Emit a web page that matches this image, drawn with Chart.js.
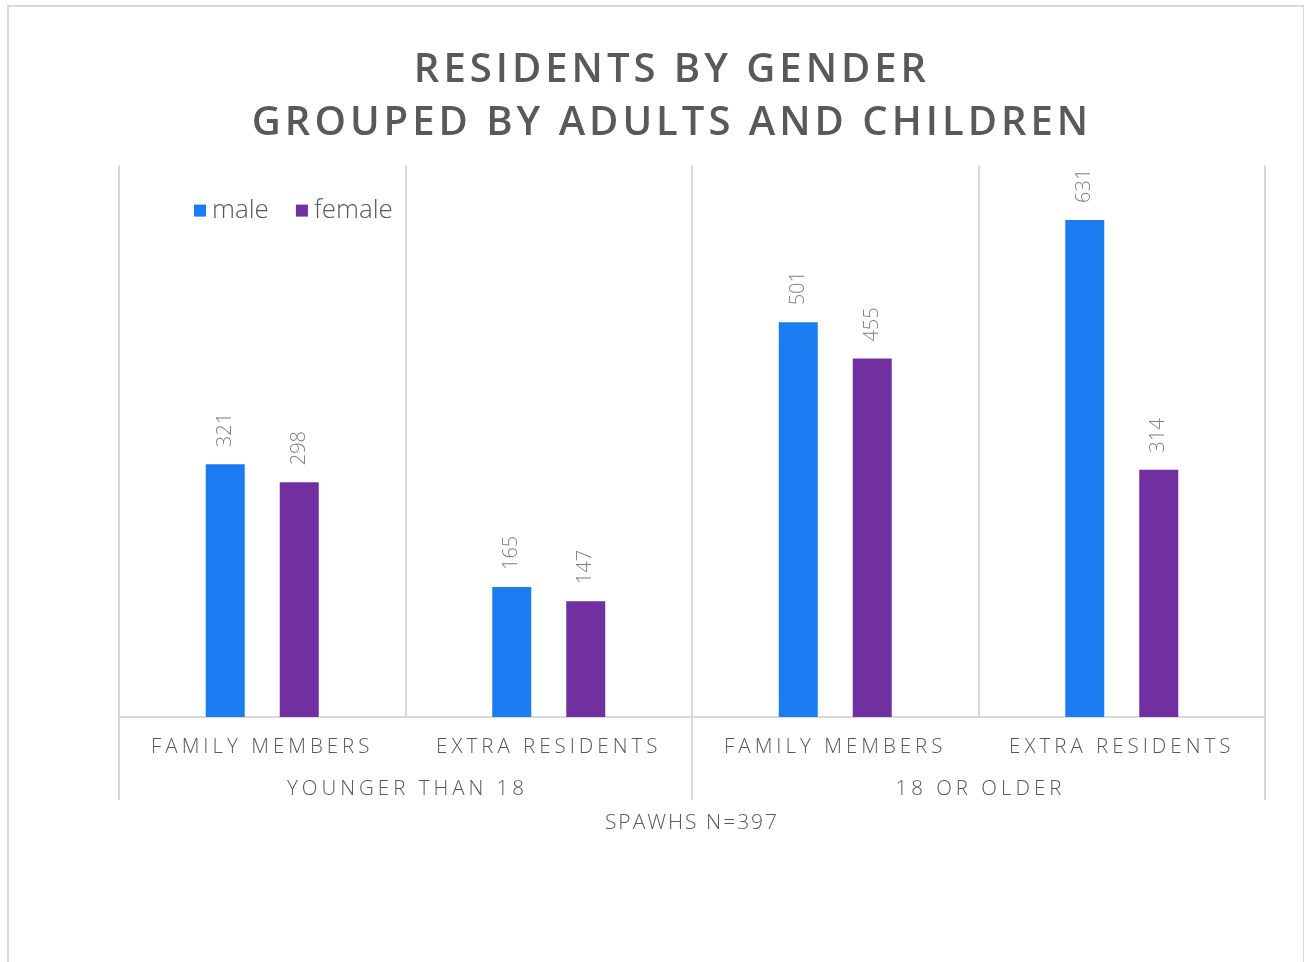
<!DOCTYPE html>
<html>
<head>
<meta charset="utf-8">
<script src="https://cdn.jsdelivr.net/npm/chart.js@4.4.0/dist/chart.umd.min.js"></script>
<style>
  html, body { margin: 0; padding: 0; background: #fff; overflow: hidden; }
  #frame { position: absolute; left: 7px; top: 5px; width: 1294px; height: 1000px; border: 2px solid #d9d9d9; pointer-events: none; }
  canvas { position: absolute; left: 0; top: 0; }
</style>
</head>
<body>
<canvas id="myChart" width="1304" height="962"></canvas>
<div id="frame"></div>
<script>
// data
const subCategories = ['FAMILY MEMBERS', 'EXTRA RESIDENTS', 'FAMILY MEMBERS', 'EXTRA RESIDENTS'];
const ageGroups = ['YOUNGER THAN 18', '18 OR OLDER'];
const maleValues = [321, 165, 501, 631];
const femaleValues = [298, 147, 455, 314];
const axisTitle = 'SPAWHS N=397';

const FONT = "'Open Sans', 'DejaVu Sans', sans-serif";
const GRID = '#d9d9d9';

// labels, legend, group row drawn on the canvas
const decor = {
  id: 'decor',
  beforeDraw(chart) {
    chart.ctx.letterSpacing = '4px';
  },
  afterDatasetsDraw(chart) {
    const ctx = chart.ctx;
    ctx.save();
    ctx.letterSpacing = '0px';
    ctx.font = '300 20px ' + FONT;
    ctx.fillStyle = '#7f7f7f';
    ctx.textAlign = 'left';
    ctx.textBaseline = 'middle';
    chart.data.datasets.forEach((ds, i) => {
      chart.getDatasetMeta(i).data.forEach((bar, j) => {
        ctx.save();
        ctx.translate(bar.x, bar.y - 17);
        ctx.rotate(-Math.PI / 2);
        ctx.fillText(String(ds.data[j]), 0, 0);
        ctx.restore();
      });
    });
    ctx.restore();
  },
  afterDraw(chart) {
    const ctx = chart.ctx;
    const x = chart.scales.x;
    const area = chart.chartArea;
    ctx.save();

    // group separators below the axis
    const mid = (x.getPixelForValue(1) + x.getPixelForValue(2)) / 2;
    ctx.strokeStyle = GRID;
    ctx.lineWidth = 2;
    [x.left, mid, x.right].forEach(px => {
      ctx.beginPath();
      ctx.moveTo(px, area.bottom);
      ctx.lineTo(px, area.bottom + 83);
      ctx.stroke();
    });

    // group labels
    ctx.font = '300 20.5px ' + FONT;
    ctx.fillStyle = '#595959';
    ctx.textAlign = 'center';
    ctx.textBaseline = 'middle';
    ctx.letterSpacing = '4px';
    ageGroups.forEach((g, gi) => {
      const cx = (x.getPixelForValue(gi * 2) + x.getPixelForValue(gi * 2 + 1)) / 2;
      ctx.fillText(g, cx + 2, area.bottom + 72);
    });

    // axis title
    ctx.letterSpacing = '2px';
    ctx.font = '300 21px ' + FONT;
    ctx.fillText(axisTitle, (x.left + x.right) / 2, area.bottom + 106);

    // legend
    ctx.letterSpacing = '0px';
    ctx.font = '300 26px ' + FONT;
    ctx.textAlign = 'left';
    let lx = area.left + 75;
    const ly = area.top + 45;
    chart.data.datasets.forEach(ds => {
      ctx.fillStyle = ds.backgroundColor;
      ctx.fillRect(lx, ly - 6, 12, 12);
      ctx.fillStyle = '#595959';
      ctx.fillText(ds.label, lx + 18, ly);
      lx += 18 + ctx.measureText(ds.label).width + 27;
    });
    ctx.restore();
  }
};

const data = {
  labels: subCategories,
  datasets: [
    { label: 'male', data: maleValues, backgroundColor: '#1a7cf0' },
    { label: 'female', data: femaleValues, backgroundColor: '#7030a0' }
  ]
};

const config = {
  type: 'bar',
  data,
  options: {
    responsive: false,
    animation: false,
    devicePixelRatio: 1,
    categoryPercentage: 0.5166,
    barPercentage: 0.527,
    layout: { padding: { left: 79, right: 39, top: 44, bottom: 205 } },
    plugins: {
      legend: { display: false },
      tooltip: { enabled: false },
      title: {
        display: true,
        text: ['RESIDENTS BY GENDER', 'GROUPED BY ADULTS AND CHILDREN'],
        color: '#595959',
        font: { family: FONT, size: 40, weight: '600', lineHeight: 1.32 },
        padding: { top: 0, bottom: 16 }
      }
    },
    scales: {
      x: {
        grid: { color: GRID, lineWidth: 2, drawTicks: false, offset: true },
        border: { color: GRID, width: 2 },
        ticks: {
          color: '#595959',
          font: { family: FONT, size: 20.5, weight: '300' },
          padding: 18,
          maxRotation: 0,
          autoSkip: false
        },
        afterFit(s) { s.height = 40; }
      },
      y: {
        min: 0,
        max: 700,
        grid: { display: false },
        border: { display: false },
        ticks: { display: false },
        afterFit(s) { s.width = 40; }
      }
    }
  },
  plugins: [decor]
};

const myChart = new Chart(document.getElementById('myChart'), config);
</script>
</body>
</html>
